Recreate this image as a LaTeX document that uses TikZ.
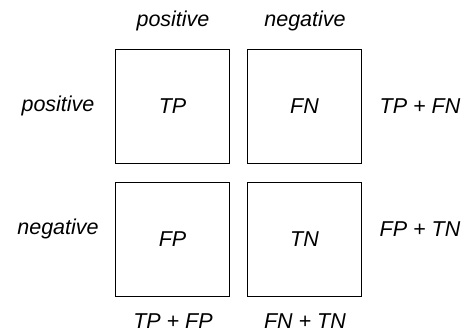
\documentclass[tikz,border=0pt]{standalone}
\usepackage{fontspec}
\setmainfont{Liberation Sans}
\begin{document}
\begin{tikzpicture}[x=1pt,y=-1pt,
  cell/.style={draw=black,line width=1.6pt,minimum width=114pt,minimum height=114pt,inner sep=0pt,font=\itshape\fontsize{21.5}{25}\selectfont},
  lbl/.style={inner sep=0pt,font=\itshape\fontsize{21.5}{25}\selectfont}]
\useasboundingbox[fill=white] (0,0) rectangle (472,336);
\node[cell] (tp) at (172.5,106.5) {TP};
\node[cell] (fn) at (304.5,106.5) {FN};
\node[cell] (fp) at (172.5,239.5) {FP};
\node[cell] (tn) at (304.5,239.5) {TN};
\node[lbl] (cpos) at (173,21) {positive};
\node[lbl] (cneg) at (305,21) {negative};
\node[lbl] (rpos) at (58,106) {positive};
\node[lbl] (rneg) at (58,229) {negative};
\node[lbl] (s1) at (420,106) {TP + FN};
\node[lbl] (s2) at (420,229) {FP + TN};
\node[lbl] (s3) at (173,321) {TP + FP};
\node[lbl] (s4) at (305,321) {FN + TN};
\end{tikzpicture}
\end{document}
